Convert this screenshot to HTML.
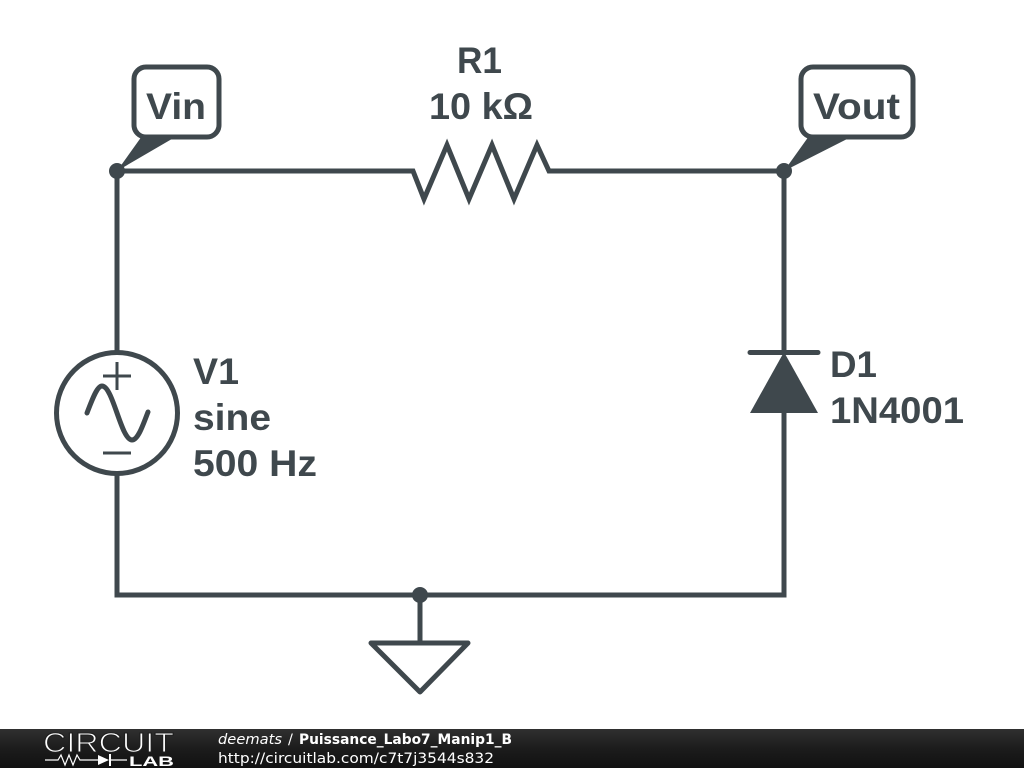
<!DOCTYPE html>
<html>
<head>
<meta charset="utf-8">
<style>
html,body{margin:0;padding:0;background:#fff;width:1024px;height:768px;overflow:hidden}
svg{display:block;position:absolute;left:0;top:0}
.l{font-family:"Liberation Sans",Arial,sans-serif;font-weight:700;font-size:37.5px;fill:#3f484d}
.f{font-family:"DejaVu Sans",sans-serif;font-size:14.5px;fill:#fff}
</style>
</head>
<body>
<svg width="1024" height="768" viewBox="0 0 1024 768" xmlns="http://www.w3.org/2000/svg">
<defs>
<linearGradient id="bar" x1="0" y1="0" x2="0" y2="1">
<stop offset="0" stop-color="#303030"/>
<stop offset="0.5" stop-color="#1c1c1c"/>
<stop offset="1" stop-color="#111"/>
</linearGradient>
</defs>
<rect width="1024" height="768" fill="#fff"/>
<g fill="none" stroke="#3f484d" stroke-width="5" stroke-linejoin="miter">
<path d="M117 171H413L424 199L447 145L469 199L492 145L514 199L537 145L549 171H784V352"/>
<path d="M117 171V351"/>
<path d="M117 474V595H784V412"/>
<path d="M420 595V643"/>
<circle cx="117" cy="413" r="60.5"/>
<path d="M371 643H468L420 692Z" stroke-linejoin="round"/>
<path d="M750 352.500H818" stroke-linecap="round"/>
<path d="M87 413C92 400 97 386 102 386C113 386 121 440 132 440C138 440 143 425 148 412" stroke-linecap="round"/>
<path d="M103 376H131M117 362V390M103 453H131" stroke-width="3"/>
<rect x="134" y="67" width="85" height="70" rx="12" fill="#fff"/>
<rect x="801" y="67" width="112" height="70" rx="12" fill="#fff"/>
</g>
<g fill="#3f484d">
<path d="M784 352L750 413H818Z"/>
<path d="M142 136H177L117 171Z"/>
<path d="M809 136H853L784 171Z"/>
<circle cx="117" cy="171" r="8"/>
<circle cx="784" cy="171" r="8"/>
<circle cx="420" cy="595" r="8"/>
</g>
<text class="l" x="457" y="73" textLength="45" lengthAdjust="spacingAndGlyphs">R1</text>
<text class="l" x="429" y="119" textLength="104" lengthAdjust="spacingAndGlyphs">10 kΩ</text>
<text class="l" x="146" y="119" textLength="60" lengthAdjust="spacingAndGlyphs">Vin</text>
<text class="l" x="813" y="119" textLength="87" lengthAdjust="spacingAndGlyphs">Vout</text>
<text class="l" x="193" y="384" textLength="46" lengthAdjust="spacingAndGlyphs">V1</text>
<text class="l" x="193" y="430" textLength="78" lengthAdjust="spacingAndGlyphs">sine</text>
<text class="l" x="193" y="476" textLength="124" lengthAdjust="spacingAndGlyphs">500 Hz</text>
<text class="l" x="830" y="377" textLength="47" lengthAdjust="spacingAndGlyphs">D1</text>
<text class="l" x="830" y="423" textLength="134" lengthAdjust="spacingAndGlyphs">1N4001</text>
<rect x="0" y="729" width="1024" height="39" fill="url(#bar)"/>
<text x="43" y="752" font-family="'Liberation Sans',sans-serif" font-size="28" fill="#fff" stroke="#1f1f1f" stroke-width="1.100" textLength="131" lengthAdjust="spacingAndGlyphs">CIRCUIT</text>
<path d="M45 760H58L61 755L65 765L69 755L73 765L77 755L80 760H98M110 760H127" fill="none" stroke="#fff" stroke-width="1.200"/>
<path d="M98 755L109 760L98 765Z" fill="#fff"/>
<path d="M110 754V766" stroke="#fff" stroke-width="2"/>
<text x="129" y="766" font-family="'Liberation Sans',sans-serif" font-weight="700" font-size="14" fill="#fff" textLength="45" lengthAdjust="spacingAndGlyphs">LAB</text>
<text class="f" x="218" y="744" font-style="italic" textLength="64" lengthAdjust="spacingAndGlyphs">deemats</text>
<text class="f" x="288" y="744">/</text>
<text class="f" x="299" y="744" font-weight="700" textLength="213" lengthAdjust="spacingAndGlyphs">Puissance_Labo7_Manip1_B</text>
<text class="f" x="218" y="763" textLength="276" lengthAdjust="spacingAndGlyphs">http://circuitlab.com/c7t7j3544s832</text>
</svg>
</body>
</html>
